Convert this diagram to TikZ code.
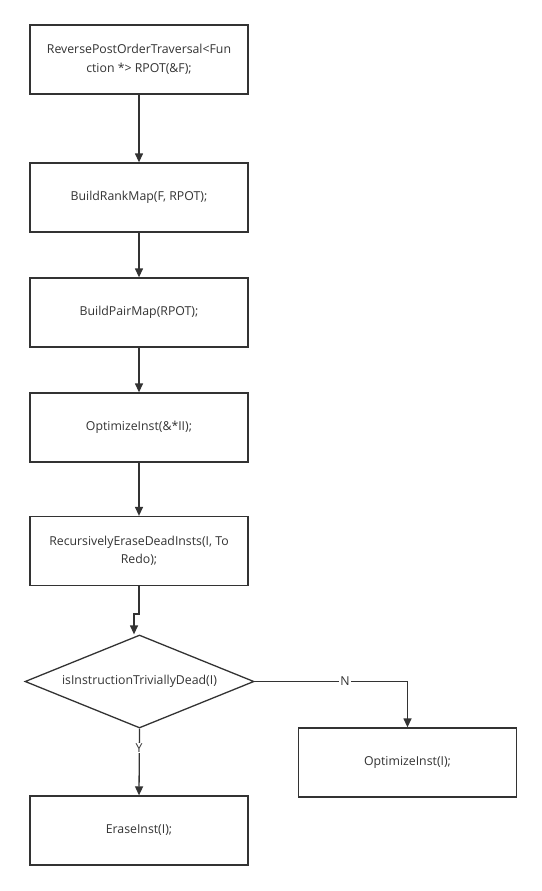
\documentclass[tikz,border=0pt]{standalone}
\usepackage{fontspec}
\setmainfont{Open Sans}
\usetikzlibrary{arrows.meta,shapes.geometric}
\definecolor{ln}{HTML}{333333}
\tikzset{
  box/.style={draw=ln, line width=1.3pt, minimum width=218pt, minimum height=69pt, inner sep=0pt, align=center, text=ln, font=\fontsize{12.3}{18.5}\selectfont},
  dec/.style={draw=ln, line width=1.3pt, diamond, minimum width=229pt, minimum height=93pt, inner sep=0pt, aspect=2.46, text=ln},
  conn/.style={draw=ln, line width=1.3pt, -{Triangle[length=9pt,width=8pt]}},
  lbl/.style={fill=white, inner sep=1pt, text=ln, font=\fontsize{12.3}{14}\selectfont}
}
\begin{document}
\begin{tikzpicture}[x=1pt,y=-1pt]
\useasboundingbox[fill=white] (0,0) rectangle (541,891);
\node[box] (b1) at (139,59.5) {ReversePostOrderTraversal<Fun\\ction *> RPOT(\&F);};
\node[box] (b2) at (139,197.5) {BuildRankMap(F, RPOT);};
\node[box] (b3) at (139,312.5) {BuildPairMap(RPOT);};
\node[box] (b4) at (139,427.5) {OptimizeInst(\&*II);};
\node[box] (b5) at (139,551) {RecursivelyEraseDeadInsts(I, To\\Redo);};
\node[dec] (d) at (139.5,681.5) {};
\node[text=ln, font=\fontsize{12.3}{16}\selectfont] at (d.center) {isInstructionTriviallyDead(I)};
\node[box] (b6) at (407.5,762.5) {OptimizeInst(I);};
\node[box] (b7) at (139,830.5) {EraseInst(I);};
\coordinate (j1) at (139,614);
\coordinate (j2) at (134,614);
\draw[conn] (b1) -- (b2);
\draw[conn] (b2) -- (b3);
\draw[conn] (b3) -- (b4);
\draw[conn] (b4) -- (b5);
\draw[conn] (b5.south) -- (j1) -- (j2) -- (j2 |- d.north);
\draw[conn] (d.east) -- (b6.north |- d.east) -- (b6.north);
\draw[conn] (d.south) -- (b7.north);
\node[lbl] at (345,681.5) {N};
\node[lbl] at (139,748) {Y};
\end{tikzpicture}
\end{document}
